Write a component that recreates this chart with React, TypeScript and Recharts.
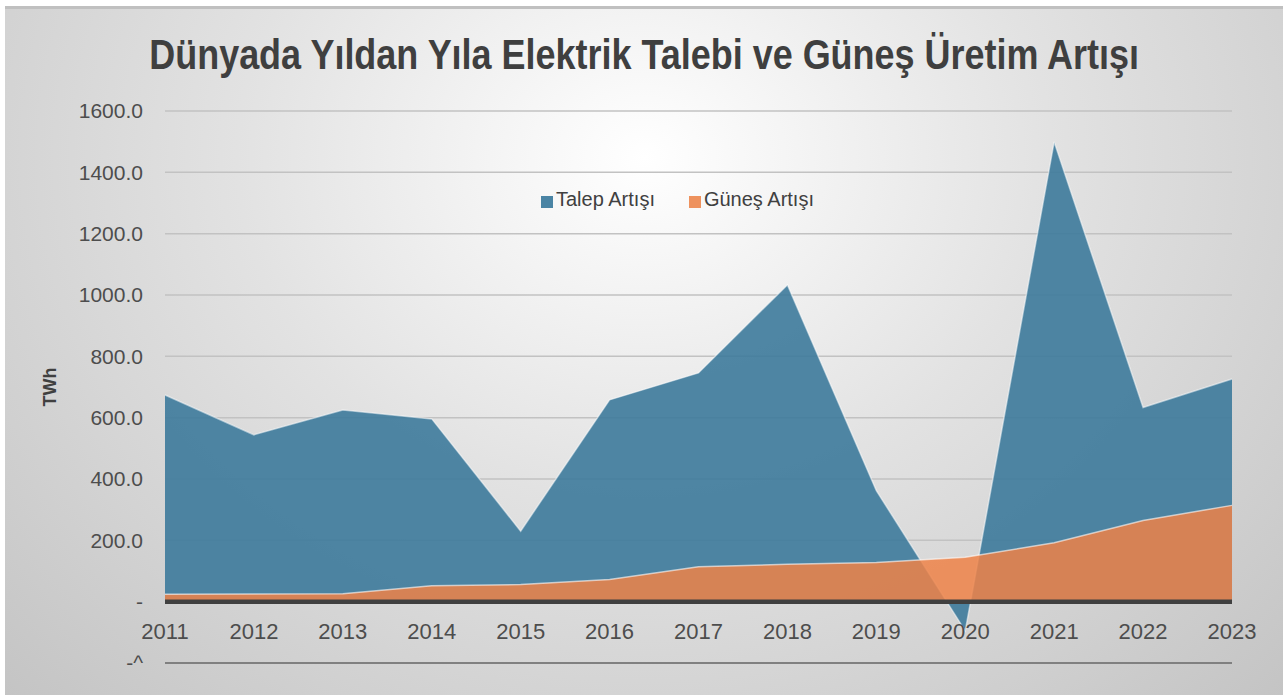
import { Area, AreaChart, CartesianGrid, Legend, ReferenceLine, XAxis, YAxis } from 'recharts'

const YEARS = ['2011', '2012', '2013', '2014', '2015', '2016', '2017', '2018', '2019', '2020', '2021', '2022', '2023']
const TALEP_ARTISI = [674, 544, 625, 596, 230, 658, 746, 1033, 362, -95, 1499, 633, 726]
const GUNES_ARTISI = [24, 25, 26, 52, 56, 72, 114, 122, 128, 145, 192, 265, 314]
const Y_TICKS = [-200, 0, 200, 400, 600, 800, 1000, 1200, 1400, 1600]
const SERIES_NAMES = ['Talep Artışı', 'Güneş Artışı']

const TITLE = 'Dünyada Yıldan Yıla Elektrik Talebi ve Güneş Üretim Artışı'
const FONT = "'Liberation Sans', Arial, sans-serif"
const BLUE = '#3d7a9b'
const ORANGE = '#ee8348'
const LEGEND_COLORS = ['#4a84a4', '#ee925e']

const rows = YEARS.map((year, i) => ({
  year,
  talep: TALEP_ARTISI[i],
  gunes: GUNES_ARTISI[i],
}))

function formatTick(value: number) {
  if (value === 0) return '-'
  if (value < 0) return '-^'
  return value.toFixed(1)
}

function YearTick({ x, y, payload }: { x?: number; y?: number; payload?: { value: string } }) {
  return (
    <text x={x} y={(y ?? 0) - 24} textAnchor="middle" fontFamily={FONT} fontSize={22} fill="#4d4d4d">
      {payload?.value}
    </text>
  )
}

function UnitLabel({ viewBox }: { viewBox?: { x: number; y: number; width: number; height: number } }) {
  if (!viewBox) return null
  const cx = viewBox.x + 45
  const cy = viewBox.y + viewBox.height / 2
  return (
    <text
      x={cx}
      y={cy}
      transform={`rotate(-90 ${cx} ${cy})`}
      textAnchor="middle"
      dominantBaseline="central"
      fontFamily={FONT}
      fontSize={18}
      fontWeight={700}
      fill="#404040"
    >
      TWh
    </text>
  )
}

function LegendContent() {
  return (
    <div style={{ display: 'flex', alignItems: 'center', gap: 34, fontFamily: FONT, fontSize: 20, color: '#404040' }}>
      {SERIES_NAMES.map((name, i) => (
        <div key={name} style={{ display: 'flex', alignItems: 'center', gap: 3 }}>
          <span style={{ display: 'inline-block', width: 12, height: 12, marginTop: 5, background: LEGEND_COLORS[i] }} />
          <span>{name}</span>
        </div>
      ))}
    </div>
  )
}

export default function App() {
  return (
    <div style={{ position: 'fixed', left: 0, top: 0, width: 1283, height: 695, background: '#ffffff', overflow: 'hidden' }}>
      <div
        style={{
          position: 'absolute',
          left: 5,
          top: 6,
          width: 1278,
          height: 689,
          background: 'radial-gradient(ellipse farthest-corner at 50% 22%, #ffffff 0%, #e2e2e2 45%, #c4c4c4 100%)',
        }}
      >
        <div style={{ position: 'absolute', left: 0, top: 0, right: 0, height: 3, background: '#c0c0c0' }} />
        <AreaChart width={1278} height={689} data={rows} margin={{ top: 105, right: 51, left: 0, bottom: 2 }}>
          <CartesianGrid vertical={false} stroke="#c2c2c2" strokeWidth={1.5} />
          <XAxis
            dataKey="year"
            height={30}
            tickLine={false}
            tickSize={0}
            tickMargin={0}
            axisLine={{ stroke: '#808080', strokeWidth: 2 }}
            tick={<YearTick />}
            interval={0}
          />
          <YAxis
            width={160}
            domain={[-200, 1600]}
            ticks={Y_TICKS}
            allowDataOverflow
            tickFormatter={formatTick}
            tickLine={false}
            tickSize={0}
            tickMargin={22}
            axisLine={false}
            tick={{ fontFamily: FONT, fontSize: 21, fill: '#4d4d4d' }}
            label={<UnitLabel />}
          />
          <Legend verticalAlign="middle" align="center" content={<LegendContent />} wrapperStyle={{ top: 182, left: 536, width: 'auto' }} />
          <Area
            type="linear"
            dataKey="talep"
            name={SERIES_NAMES[0]}
            baseValue={0}
            fill={BLUE}
            fillOpacity={0.9}
            stroke="#ffffff"
            strokeOpacity={0.5}
            strokeWidth={1.5}
            isAnimationActive={false}
          />
          <Area
            type="linear"
            dataKey="gunes"
            name={SERIES_NAMES[1]}
            baseValue={0}
            fill={ORANGE}
            fillOpacity={0.85}
            stroke="#ffffff"
            strokeOpacity={0.6}
            strokeWidth={1.5}
            isAnimationActive={false}
          />
          <ReferenceLine y={0} stroke="#404040" strokeWidth={4.5} />
        </AreaChart>
        <div
          style={{
            position: 'absolute',
            left: 0,
            top: 28,
            width: '100%',
            textAlign: 'center',
            whiteSpace: 'nowrap',
          }}
        >
          <span
            style={{
              display: 'inline-block',
              fontFamily: FONT,
              fontWeight: 700,
              fontSize: 42,
              lineHeight: '42px',
              color: '#3f3f3f',
              transform: 'scaleX(0.856)',
              transformOrigin: 'center',
            }}
          >
            {TITLE}
          </span>
        </div>
      </div>
    </div>
  )
}
